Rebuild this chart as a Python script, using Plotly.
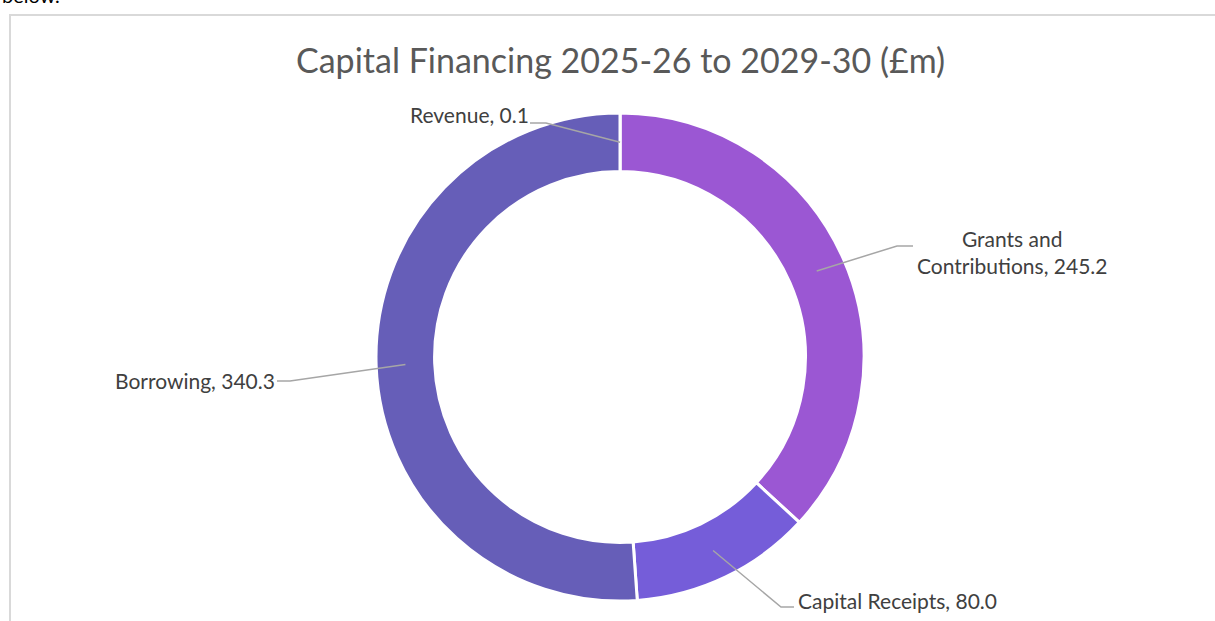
import numpy as np
import plotly.graph_objects as go

W, H = 1215, 621

# data
labels = ["Revenue", "Grants and Contributions", "Capital Receipts", "Borrowing"]
values = [0.1, 245.2, 80.0, 340.3]
label_text = ["Revenue, 0.1", "Grants and<br>Contributions, 245.2",
              "Capital Receipts, 80.0", "Borrowing, 340.3"]
colors = ["#92278F", "#9B57D3", "#755DD9", "#665EB8"]

# ring geometry in pixels
cx, cy, r_out, hole = 620, 357, 244, 0.76
r_mid = r_out * (1 + hole) / 2


def px(x, y):
    return x / W, 1 - y / H


fig = go.Figure(go.Pie(
    labels=labels, values=values, sort=False, direction="clockwise", rotation=0,
    hole=hole, textinfo="none", hoverinfo="label+value",
    marker=dict(colors=colors, line=dict(color="white", width=3)),
    domain=dict(x=[(cx - r_out) / W, (cx + r_out) / W],
                y=[1 - (cy + r_out) / H, 1 - (cy - r_out) / H]),
    showlegend=False,
))

# leader line anchors at the middle of each slice
vals = np.array(values)
mid = (np.cumsum(vals) - vals / 2) / vals.sum() * 2 * np.pi
ax = cx + r_mid * np.sin(mid)
ay = cy - r_mid * np.cos(mid)

# label placement: (elbow x, elbow y, end x, text x, text y, anchor)
place = [
    (546, 123, 530, 531, 114, "right"),
    (897, 246, 913, 1012, 252, "center"),
    (781, 607, 794, 796, 600, "left"),
    (290, 381, 277, 277, 381, "right"),
]

shapes = []
annotations = []
for i, (ex, ey, tx_end, tx, ty, anc) in enumerate(place):
    p0 = px(ax[i], ay[i]); p1 = px(ex, ey); p2 = px(tx_end, ey)
    shapes.append(dict(type="path", xref="paper", yref="paper",
                       path=f"M {p0[0]},{p0[1]} L {p1[0]},{p1[1]} L {p2[0]},{p2[1]}",
                       line=dict(color="#A6A6A6", width=1.5)))
    x, y = px(tx, ty)
    annotations.append(dict(text=label_text[i], x=x, y=y, xref="paper", yref="paper",
                            xanchor=anc, yanchor="middle", showarrow=False, align="center",
                            font=dict(family="Lato", size=21, color="#404040")))

# chart frame
shapes.append(dict(type="rect", xref="paper", yref="paper",
                   x0=10 / W, x1=1.02, y0=-0.02, y1=1 - 15 / H,
                   line=dict(color="#D9D9D9", width=2), fillcolor="rgba(0,0,0,0)", layer="below"))

# title and cropped preceding text
annotations.append(dict(text="Capital Financing 2025-26 to 2029-30 (£m)", x=620 / W, y=1 - 60 / H,
                        xref="paper", yref="paper", xanchor="center", yanchor="middle",
                        showarrow=False, font=dict(family="Lato", size=34, color="#595959")))
annotations.append(dict(text="below.", x=0, y=1 - 9 / H, xref="paper", yref="paper",
                        xanchor="left", yanchor="bottom", showarrow=False,
                        font=dict(family="Lato", size=20, color="#000000")))

fig.update_layout(width=W, height=H, margin=dict(l=0, r=0, t=0, b=0),
                  paper_bgcolor="white", plot_bgcolor="white",
                  shapes=shapes, annotations=annotations)

fig.write_html("out.html", config={"displayModeBar": False},
               post_script="document.body.style.margin='0';")
